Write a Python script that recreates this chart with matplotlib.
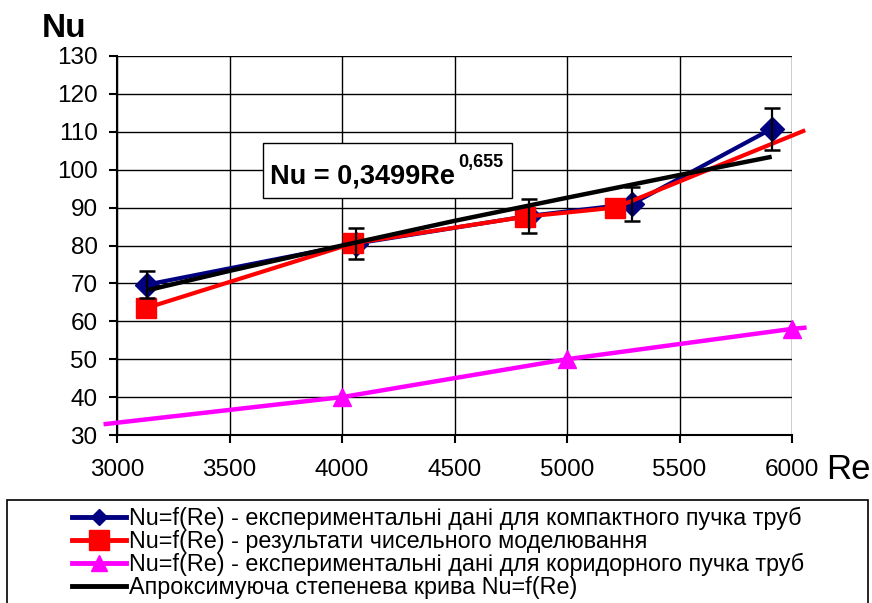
import numpy as np
import matplotlib
matplotlib.use("Agg")
import matplotlib.pyplot as plt
from matplotlib.patches import Rectangle

# data
re_compact = [3135, 4060, 4830, 5290, 5910]
nu_compact = [69.7, 80.5, 87.8, 91.0, 110.8]
err_compact = [3.5, 4.0, 4.4, 4.5, 5.5]

re_model = [3130, 4050, 4815, 5215, 6050]
nu_model = [63.5, 80.6, 87.6, 90.0, 110.2]

re_corridor = [2950, 4000, 5000, 6000, 6055]
nu_corridor = [32.9, 40.0, 50.0, 58.0, 58.3]

re_fit = [3150, 3500, 4000, 4500, 5000, 5500, 5900]
nu_fit = [68.4, 73.3, 80.0, 86.5, 92.6, 98.6, 103.3]

labels = ["Nu=f(Re) - експериментальні дані для компактного пучка труб",
          "Nu=f(Re) - результати чисельного моделювання",
          "Nu=f(Re) - експериментальні дані для коридорного пучка труб",
          "Апроксимуюча степенева крива Nu=f(Re)"]

fit_text = "Nu = 0,3499Re"
fit_exp = "0,655"

plt.rcParams['font.family'] = ['Liberation Sans', 'DejaVu Sans']

fig = plt.figure(figsize=(8.72, 6.03), dpi=100)
ax = fig.add_axes([117/872, 1-435/603, (792-117)/872, (435-56)/603])

ax.plot(re_compact, nu_compact, color="#000080", lw=3, marker="D", ms=12,
        clip_on=False, zorder=4)
ax.errorbar(re_compact, nu_compact, yerr=err_compact, fmt="none", ecolor="black",
            elinewidth=1.6, capsize=6, capthick=1.8, zorder=5, clip_on=False)
ax.plot(re_model, nu_model, color="#ff0000", lw=3, marker="s", ms=14,
        markevery=[0, 1, 2, 3], clip_on=False, zorder=4)
ax.plot(re_corridor, nu_corridor, color="#ff00ff", lw=3.2, marker="^", ms=13,
        markevery=[1, 2, 3], clip_on=False, zorder=4)
ax.plot(re_fit, nu_fit, color="black", lw=3.2, clip_on=False, zorder=6)

ax.set_xlim(3000, 6000)
ax.set_ylim(30, 130)
ax.set_xticks(np.arange(3000, 6001, 500))
ax.set_yticks(np.arange(30, 131, 10))
ax.grid(True, color="black", lw=1)
ax.set_axisbelow(True)
for s in ["top", "right"]:
    ax.spines[s].set_visible(False)
for s in ["left", "bottom"]:
    ax.spines[s].set_linewidth(1.5)
ax.tick_params(direction="out", length=6, width=1.5, labelsize=17.5)
ax.tick_params(axis="x", pad=11)
ax.tick_params(axis="y", pad=8)

fig.text(42/872, 1-37/603, "Nu", fontsize=24, fontweight="bold")
fig.text(826/872, 1-479/603, "Re", fontsize=25)

# trendline equation box
fig.patches.append(Rectangle((263/872, 1-198/603), 249/872, 55/603,
                             transform=fig.transFigure, fill=True, fc="white",
                             ec="black", lw=1, zorder=7))
fig.text(270/872, 1-184/603, fit_text, fontsize=19.5, fontweight="bold", zorder=8)
fig.text(458/872, 1-167/603, fit_exp, fontsize=13, fontweight="bold", zorder=8)

# legend frame and entries
fig.patches.append(Rectangle((7/872, -0.01), 861/872, 1-500/603 + 0.01,
                             transform=fig.transFigure, fill=False,
                             ec="black", lw=1.2))
h1, = ax.plot([], [], color="#000080", lw=3.5, marker="D", ms=8)
h2, = ax.plot([], [], color="#ff0000", lw=3.5, marker="s", ms=14)
h3, = ax.plot([], [], color="#ff00ff", lw=3.5, marker="^", ms=12)
h4, = ax.plot([], [], color="black", lw=3.5)
fig.legend([h1, h2, h3, h4], labels, loc="upper left",
           bbox_to_anchor=(72/872, 1-507/603), frameon=False,
           prop={"size": 16.8}, handlelength=2.3,
           handletextpad=0.15, labelspacing=0.0, borderpad=0, borderaxespad=0)

fig.savefig("out.png", dpi=100)
